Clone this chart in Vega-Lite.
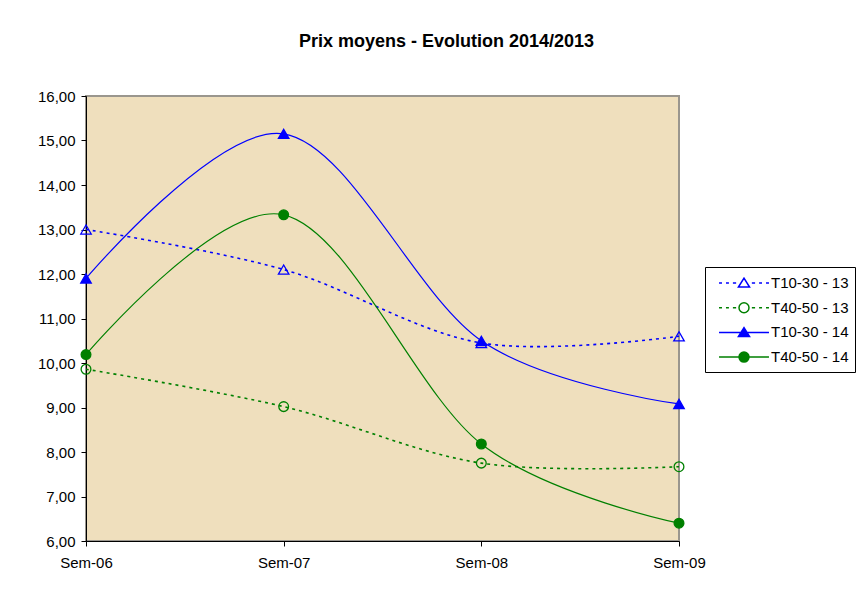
{
  "$schema": "https://vega.github.io/schema/vega-lite/v6.json",
  "width": 593,
  "height": 445,
  "autosize": {"type": "none"},
  "padding": {"left": 86, "top": 96, "right": 189, "bottom": 50},
  "background": "white",
  "title": {
    "text": "Prix moyens - Evolution 2014/2013",
    "font": "Liberation Sans",
    "fontSize": 18,
    "fontWeight": "bold",
    "color": "#000000",
    "anchor": "middle",
    "dx": 64,
    "offset": 38
  },
  "config": {
    "view": {"fill": "#EFDFBD", "stroke": "#9a968e", "strokeWidth": 2},
    "axis": {
      "labelFont": "Liberation Sans",
      "labelFontSize": 15,
      "labelColor": "#000000",
      "domainColor": "#000000",
      "tickColor": "#000000",
      "tickSize": 5,
      "grid": false,
      "title": null
    },
    "legend": {
      "labelFont": "Liberation Sans",
      "labelFontSize": 15,
      "labelColor": "#000000"
    }
  },
  "data": {
    "values": [
      {"semaine": "Sem-06", "serie": "T10-30 - 13", "prix": 13.00},
      {"semaine": "Sem-07", "serie": "T10-30 - 13", "prix": 12.10},
      {"semaine": "Sem-08", "serie": "T10-30 - 13", "prix": 10.45},
      {"semaine": "Sem-09", "serie": "T10-30 - 13", "prix": 10.60},
      {"semaine": "Sem-06", "serie": "T40-50 - 13", "prix": 9.86},
      {"semaine": "Sem-07", "serie": "T40-50 - 13", "prix": 9.02},
      {"semaine": "Sem-08", "serie": "T40-50 - 13", "prix": 7.75},
      {"semaine": "Sem-09", "serie": "T40-50 - 13", "prix": 7.67},
      {"semaine": "Sem-06", "serie": "T10-30 - 14", "prix": 11.90},
      {"semaine": "Sem-07", "serie": "T10-30 - 14", "prix": 15.15},
      {"semaine": "Sem-08", "serie": "T10-30 - 14", "prix": 10.50},
      {"semaine": "Sem-09", "serie": "T10-30 - 14", "prix": 9.08},
      {"semaine": "Sem-06", "serie": "T40-50 - 14", "prix": 10.19},
      {"semaine": "Sem-07", "serie": "T40-50 - 14", "prix": 13.33},
      {"semaine": "Sem-08", "serie": "T40-50 - 14", "prix": 8.18},
      {"semaine": "Sem-09", "serie": "T40-50 - 14", "prix": 6.40}
    ]
  },
  "encoding": {
    "x": {
      "field": "semaine",
      "type": "ordinal",
      "scale": {"type": "point", "padding": 0},
      "axis": {"labelAngle": 0, "labelPadding": 9}
    },
    "y": {
      "field": "prix",
      "type": "quantitative",
      "scale": {"domain": [6, 16], "nice": false, "zero": false},
      "axis": {
        "values": [6, 7, 8, 9, 10, 11, 12, 13, 14, 15, 16],
        "labelExpr": "replace(format(datum.value, '.2f'), '.', ',')",
        "labelPadding": 6
      }
    }
  },
  "layer": [
    {
      "mark": {"type": "point", "filled": false, "strokeWidth": 1.5, "opacity": 0},
      "encoding": {
        "color": {
          "field": "serie",
          "type": "nominal",
          "scale": {
            "domain": ["T10-30 - 13", "T40-50 - 13", "T10-30 - 14", "T40-50 - 14"],
            "range": ["#0000FF", "#008000", "#0000FF", "#008000"]
          },
          "legend": {
            "title": null,
            "orient": "none",
            "legendX": 619,
            "legendY": 171,
            "padding": 6,
            "strokeColor": "#000000",
            "fillColor": "#ffffff",
            "symbolSize": 342.25,
            "symbolStrokeWidth": 1.5,
            "symbolOpacity": 1,
            "symbolOffset": 23,
            "labelOffset": 17,
            "rowPadding": 6.7
          }
        },
        "fill": {
          "field": "serie",
          "type": "nominal",
          "scale": {
            "domain": ["T10-30 - 13", "T40-50 - 13", "T10-30 - 14", "T40-50 - 14"],
            "range": ["rgba(255,255,255,0)", "rgba(255,255,255,0)", "#0000FF", "#008000"]
          },
          "legend": {
            "title": null,
            "orient": "none",
            "legendX": 619,
            "legendY": 171,
            "padding": 6,
            "strokeColor": "#000000",
            "fillColor": "#ffffff",
            "symbolSize": 342.25,
            "symbolStrokeWidth": 1.5,
            "symbolOpacity": 1,
            "symbolOffset": 23,
            "labelOffset": 17,
            "rowPadding": 6.7
          }
        },
        "shape": {
          "field": "serie",
          "type": "nominal",
          "scale": {
            "domain": ["T10-30 - 13", "T40-50 - 13", "T10-30 - 14", "T40-50 - 14"],
            "range": [
              "M-2.7,0H-2.38M-1.95,0H-1.63M-1.2,0H-0.85M0.85,0H1.2M1.63,0H1.95M2.38,0H2.7M-0.6,0.43L0,-0.52L0.6,0.43Z",
              "M-2.7,0H-2.38M-1.95,0H-1.63M-1.2,0H-0.85M0.85,0H1.2M1.63,0H1.95M2.38,0H2.7M-0.54,0A0.54,0.54 0 1,0 0.54,0A0.54,0.54 0 1,0 -0.54,0Z",
              "M-2.7,0H2.7M-0.6,0.43L0,-0.52L0.6,0.43Z",
              "M-2.7,0H2.7M-0.54,0A0.54,0.54 0 1,0 0.54,0A0.54,0.54 0 1,0 -0.54,0Z"
            ]
          },
          "legend": {
            "title": null,
            "orient": "none",
            "legendX": 619,
            "legendY": 171,
            "padding": 6,
            "strokeColor": "#000000",
            "fillColor": "#ffffff",
            "symbolSize": 342.25,
            "symbolStrokeWidth": 1.5,
            "symbolOpacity": 1,
            "symbolOffset": 23,
            "labelOffset": 17,
            "rowPadding": 6.7
          }
        }
      }
    },
    {
      "transform": [{"filter": "indexof(datum.serie, '- 13') >= 0"}],
      "mark": {"type": "line", "interpolate": "cardinal", "strokeWidth": 1.6, "strokeDash": [3, 4]},
      "encoding": {
        "color": {"field": "serie", "type": "nominal"}
      }
    },
    {
      "transform": [{"filter": "indexof(datum.serie, '- 14') >= 0"}],
      "mark": {"type": "line", "interpolate": "cardinal", "strokeWidth": 1.2},
      "encoding": {
        "color": {"field": "serie", "type": "nominal"}
      }
    },
    {
      "transform": [{"filter": "indexof(datum.serie, 'T10-30') >= 0"}],
      "mark": {"type": "point", "shape": "triangle-up", "size": 110, "strokeWidth": 1.3, "opacity": 1},
      "encoding": {
        "color": {"field": "serie", "type": "nominal"},
        "fill": {"field": "serie", "type": "nominal"}
      }
    },
    {
      "transform": [{"filter": "indexof(datum.serie, 'T40-50') >= 0"}],
      "mark": {"type": "point", "shape": "circle", "size": 95, "strokeWidth": 1.3, "opacity": 1},
      "encoding": {
        "color": {"field": "serie", "type": "nominal"},
        "fill": {"field": "serie", "type": "nominal"}
      }
    }
  ]
}
